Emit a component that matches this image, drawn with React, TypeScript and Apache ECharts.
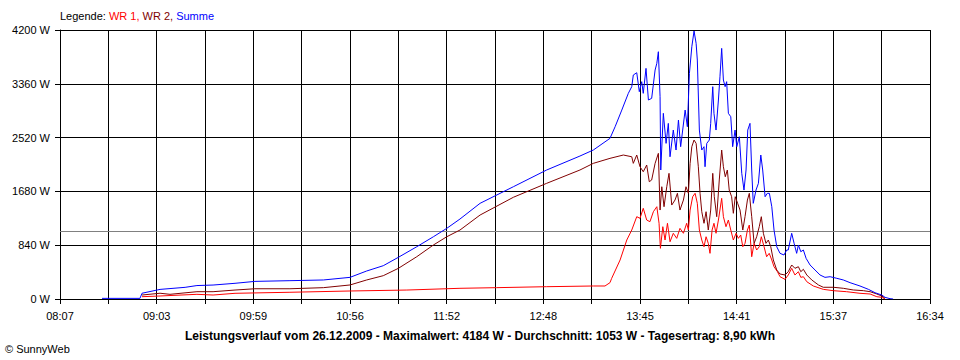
import React, { useEffect, useRef } from "react";
import * as echarts from "echarts";

// time axis: 08:07 .. 16:34 (minutes of day), in 10-second units for exact ticks
const START_MIN = 487;
const END_MIN = 994;
const xTickLabels = ["08:07", "09:03", "09:59", "10:56", "11:52", "12:48", "13:45", "14:41", "15:37", "16:34"];
const yTicks = [0, 840, 1680, 2520, 3360, 4200];
const AVERAGE_W = 1053;
const titleText = "Leistungsverlauf vom 26.12.2009 - Maximalwert: 4184 W - Durchschnitt: 1053 W - Tagesertrag: 8,90 kWh";

// [minute of day, watt]
const wr1Points: [number, number][] = [
  [534.8, 36], [545.3, 47], [566.8, 73], [576.2, 62], [589, 89], [621, 105], [656, 125], [689.1, 140],
  [720.1, 167], [741.5, 177], [770.6, 192], [797.8, 203], [804.6, 203], [807.5, 255], [808.5, 323],
  [813.4, 609], [817.3, 921], [820.2, 1077], [823.1, 1285], [825, 1260], [826.9, 1416], [828.9, 1233],
  [830.8, 1207], [832.8, 1363], [834.8, 1441], [836.1, 1182], [836.9, 791], [838.3, 1129], [839.6, 921],
  [841, 1182], [842.5, 894], [844.4, 1026], [846.4, 947], [848.3, 1103], [850.3, 1026], [852.2, 1182],
  [853.2, 1077], [854.2, 1389], [855.7, 1597], [857.1, 1650], [858.4, 1494], [859.6, 1077], [861, 921],
  [862.3, 816], [863.5, 972], [864.8, 869], [865.8, 713], [867, 1077], [868.1, 1182], [869.3, 1026],
  [870.7, 1233], [872.6, 1572], [873.6, 1285], [875.1, 1129], [876.5, 1233], [877.9, 1077], [879.4, 921],
  [881, 1026], [882.3, 947], [883.7, 999], [884.9, 816], [886.2, 869], [887.6, 1077], [888.7, 1155],
  [890.1, 660], [891.5, 869], [893, 765], [894.5, 816], [895.7, 972], [897.3, 816], [898.8, 660],
  [900.3, 713], [901.8, 609], [903.1, 504], [905.1, 426], [906.6, 348], [909.5, 307], [911.4, 375],
  [913.4, 479], [915.3, 375], [917.3, 426], [918.7, 338], [920.2, 348], [922.2, 270], [926, 203],
  [931.8, 151], [937.7, 130], [945.4, 114], [953.2, 89], [959.1, 78], [963, 36], [965.9, 26], [967.8, 0],
];

const wr2Points: [number, number][] = [
  [534.8, 62], [545.3, 90], [551.1, 73], [566.8, 114], [576.2, 114], [589, 140], [600.6, 160], [621, 160],
  [640.5, 177], [656, 219], [665.7, 297], [675.4, 364], [684.2, 479], [694.9, 660], [704.6, 843],
  [712.4, 972], [720.1, 1077], [731.8, 1311], [751.2, 1588], [770.6, 1806], [790, 2014], [797.8, 2118],
  [807.5, 2196], [815.3, 2248], [820.2, 2221],
  [821.1, 2118], [823.1, 2248], [825, 2065], [826.9, 1987], [828.9, 2092], [830.4, 1831], [831.8, 1858],
  [833.8, 2118], [835.7, 2274], [836.7, 1389], [837.7, 1753], [839, 1441], [840.6, 1753], [841.9, 1962],
  [843.5, 1467], [845.4, 1545], [846.8, 1650], [848.3, 1389], [850.3, 1545], [851.8, 1753], [853.2, 1650],
  [854.2, 2118], [855.2, 2378], [856.5, 2482], [857.7, 2430], [859, 2065], [860, 1650], [861, 1363],
  [862.3, 1182], [863.5, 1363], [864.8, 1077], [866.2, 1389], [867.4, 1962], [868.3, 1597], [869.7, 1285],
  [871.2, 1858], [872.6, 2326], [873.6, 2065], [874.7, 1909], [875.9, 2014], [877, 1701], [878.4, 1597],
  [879.4, 1338], [880.5, 1597], [881.9, 1494], [883.3, 1389], [884.9, 1077], [886.2, 1285], [887.6, 1545],
  [888.7, 1650], [890.1, 1285], [891.5, 869], [893, 972], [894.5, 1129], [895.7, 1285], [896.9, 1026],
  [898.4, 869], [899.8, 921], [901.2, 816], [902.7, 609], [904.7, 453], [906.6, 390], [909.5, 375],
  [911.4, 426], [913.4, 531], [915.3, 479], [917.3, 504], [918.7, 426], [920.2, 464], [922.2, 375],
  [925.1, 297], [929, 219], [931.8, 183], [937.7, 183], [943.5, 167], [949.3, 141], [955.2, 130],
  [959.1, 114], [963, 78], [965.9, 47], [967.8, 11],
];

const sumPoints: [number, number][] = [
  [511.5, 10], [533.6, 10], [534.8, 90], [545.3, 150], [559.9, 182], [566.8, 210], [576.2, 218], [589, 245],
  [600.6, 275], [621, 286], [640.5, 297], [656, 338], [665.7, 437], [675.4, 520], [684.2, 651],
  [694.9, 816], [704.6, 972], [712.4, 1103], [720.1, 1249], [731.8, 1494], [751.2, 1753], [770.6, 2014],
  [790, 2232], [797.8, 2326], [807.5, 2508],
  [810.5, 2690], [814.4, 2950], [818.2, 3211], [820.2, 3315], [821.1, 3497], [823.1, 3533], [824.6, 3237],
  [826, 3393], [826.9, 3211], [828.5, 3601], [829.9, 3107], [831.8, 3133], [833.8, 3575], [834.8, 3679],
  [835.7, 3861], [836.7, 3159], [837.1, 2014], [838.6, 2899], [840.2, 2430], [841.5, 2742], [842.5, 2221],
  [844.4, 2638], [846, 2326], [847.4, 2794], [848.7, 2378], [851.3, 2950], [852.6, 2690], [853.8, 3523],
  [855.2, 3939], [856.5, 4184], [857.7, 3991], [858.4, 3731], [859.6, 2638], [861, 2326], [862.3, 2378],
  [862.9, 2065], [863.9, 2430], [865.4, 2482], [866.2, 2742], [867.4, 3315], [868.1, 2899], [869.3, 2638],
  [870.7, 3107], [871.6, 3470], [872.6, 3913], [873.6, 3419], [874.6, 3315], [875.5, 3393], [876.5, 2899],
  [877.9, 2846], [879, 2378], [880.4, 2638], [881.4, 2378], [882.9, 2534], [884.3, 1962], [885.6, 1701],
  [886.8, 2014], [887.8, 2638], [889.1, 2742], [890.1, 2014], [891, 1494], [892.6, 1701], [894, 1806],
  [895.4, 2248], [896.5, 2014], [897.9, 1597], [899.2, 1650], [900.4, 1650], [901.8, 1441], [903.1, 1077],
  [904.7, 816], [906.6, 713], [908.9, 687], [910.5, 765], [911.4, 765], [913.4, 1026], [914.8, 869],
  [916.3, 713], [917.3, 843], [918.7, 738], [920.2, 765], [921.8, 635], [924.1, 531], [927, 453],
  [929.9, 375], [932.8, 338], [935.8, 348], [939.7, 323], [943.5, 297], [947.4, 255], [953.2, 203],
  [958.1, 151], [962, 98], [965.9, 62], [967.8, 26], [970.7, 5], [972.5, 0],
];

const UNITS_PER_MIN = 6; // 10-second units
const X_MAX = (END_MIN - START_MIN) * UNITS_PER_MIN; // 3042
const X_INTERVAL = X_MAX / 18; // 169

const toXY = (pts: [number, number][]) =>
  pts.map(([t, w]) => [Math.round((t - START_MIN) * UNITS_PER_MIN * 10) / 10, w]);

const FONT = "'Liberation Sans', Arial, sans-serif";

export default function App() {
  const ref = useRef<HTMLDivElement>(null);
  useEffect(() => {
    if (!ref.current) return;
    const chart = echarts.init(ref.current, undefined, { renderer: "svg" });
    const lineSeries = (name: string, color: string, pts: [number, number][], extra: any = {}) => ({
      name,
      type: "line",
      data: toXY(pts),
      showSymbol: false,
      symbol: "none",
      lineStyle: { color, width: 1 },
      itemStyle: { color },
      silent: true,
      z: 3,
      ...extra,
    });
    chart.setOption({
      animation: false,
      backgroundColor: "#ffffff",
      textStyle: { fontFamily: FONT },
      title: [
        {
          text: "{k|Legende: }{a|WR 1, }{b|WR 2, }{c|Summe}",
          left: 60,
          top: 10,
          padding: 0,
          textStyle: {
            fontSize: 11,
            fontWeight: "normal",
            fontFamily: FONT,
            rich: {
              k: { color: "#000000", fontSize: 11, fontFamily: FONT },
              a: { color: "#ff0000", fontSize: 11, fontFamily: FONT },
              b: { color: "#800000", fontSize: 11, fontFamily: FONT },
              c: { color: "#0000ff", fontSize: 11, fontFamily: FONT },
            },
          },
        },
        {
          text: titleText,
          left: "center",
          top: 330,
          padding: 0,
          textStyle: { fontSize: 12, fontWeight: "bold", color: "#000000", fontFamily: FONT },
        },
        {
          text: "© SunnyWeb",
          left: 5,
          top: 343,
          padding: 0,
          textStyle: { fontSize: 11, fontWeight: "normal", color: "#000000", fontFamily: FONT },
        },
      ],
      grid: { left: 60, right: 30, top: 30, bottom: 61, containLabel: false },
      xAxis: {
        type: "value",
        min: 0,
        max: X_MAX,
        interval: X_INTERVAL,
        axisLine: { show: true, lineStyle: { color: "#000000", width: 1 } },
        axisTick: { show: true, length: 5, lineStyle: { color: "#000000" } },
        splitLine: { show: true, lineStyle: { color: "#000000", width: 1 } },
        axisLabel: {
          color: "#000000",
          fontSize: 11,
          fontFamily: FONT,
          margin: 11,
          showMinLabel: true,
          showMaxLabel: true,
          formatter: (v: number) => {
            const i = Math.round(v / X_INTERVAL);
            if (i % 2 !== 0) return "";
            return xTickLabels[i / 2] ?? "";
          },
        },
      },
      yAxis: {
        type: "value",
        min: yTicks[0],
        max: yTicks[yTicks.length - 1],
        interval: yTicks[1] - yTicks[0],
        axisLine: { show: true, lineStyle: { color: "#000000", width: 1 } },
        axisTick: { show: true, length: 5, lineStyle: { color: "#000000" } },
        splitLine: { show: true, lineStyle: { color: "#000000", width: 1 } },
        axisLabel: {
          color: "#000000",
          fontSize: 11,
          fontFamily: FONT,
          margin: 10,
          formatter: (v: number) => `${v} W`,
        },
      },
      series: [
        lineSeries("WR 1", "#ff0000", wr1Points, {
          markLine: {
            silent: true,
            symbol: "none",
            label: { show: false },
            lineStyle: { color: "#808080", width: 1, type: "solid" },
            data: [{ yAxis: AVERAGE_W }],
            z: 2,
          },
        }),
        lineSeries("WR 2", "#800000", wr2Points),
        lineSeries("Summe", "#0000ff", sumPoints),
      ],
    });
    return () => chart.dispose();
  }, []);
  return (
    <div
      ref={ref}
      style={{ position: "absolute", left: 0, top: 0, width: 960, height: 360, background: "#fff" }}
    />
  );
}
